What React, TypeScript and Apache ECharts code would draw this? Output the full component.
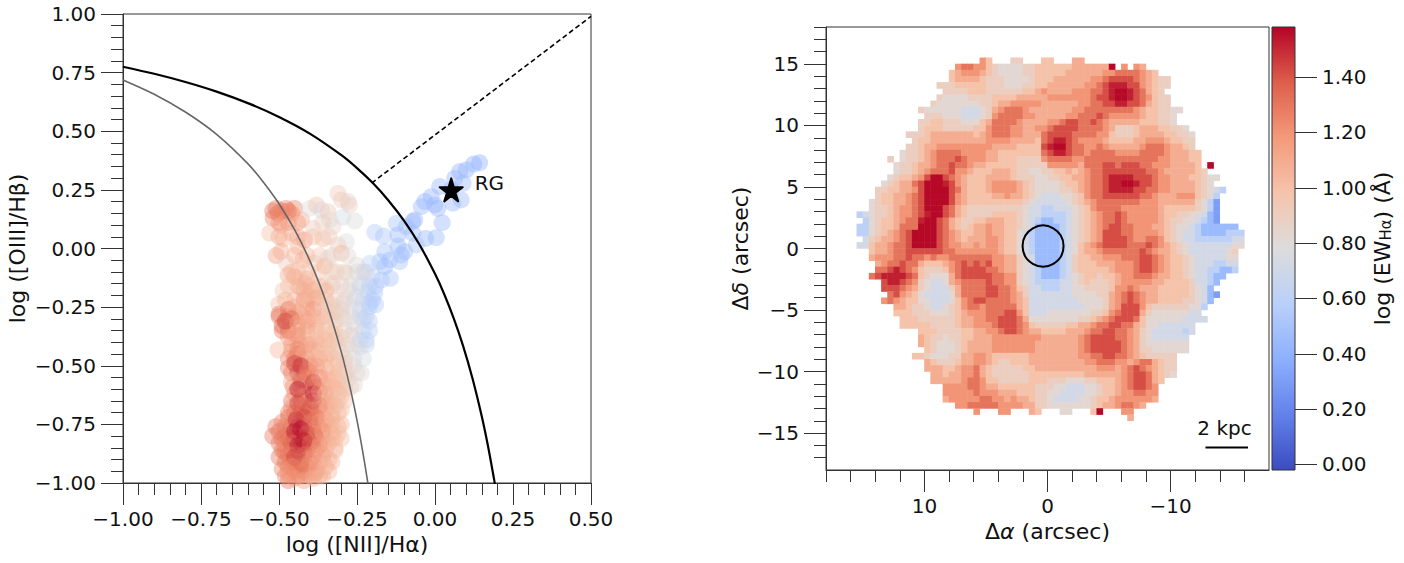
import React, { useEffect, useRef } from "react";
import * as echarts from "echarts";

const FONT = "DejaVu Sans";
const INK = "#111";
const FRAME = "#333";

// Line diagrams
const kewleyCurve = [[-1,.775],[-.9,.745],[-.8,.71],[-.7,.669],[-.6,.62],[-.5,.561],[-.4,.489],[-.3,.398],[-.25,.343],[-.2,.28],[-.15,.206],[-.1,.12],[-.05,.017],[0,-.108],[.03,-.196],[.06,-.298],[.09,-.415],[.12,-.553],[.15,-.716],[.17,-.843],[.19,-.989],[.195,-1.03]];
const kauffmannCurve = [[-1,.719],[-.9,.658],[-.8,.582],[-.7,.487],[-.6,.362],[-.55,.283],[-.5,.191],[-.45,.08],[-.4,-.056],[-.35,-.225],[-.3,-.443],[-.27,-.606],[-.25,-.733],[-.23,-.879],[-.215,-1.002]];
const dividerLine = [[-.203,.279],[.5,.99]];
const rgPoint = [.052,.25];

// [log NII/Ha, log OIII/Hb, log EW]
const blueBranch = [[.143,.366,.38],[.124,.36,.38],[.1,.335,.4],[.079,.328,.4],[.063,.299,.42],[.09,.278,.45],[.015,.264,.42],[.052,.25,.42],[.084,.207,.45],[.057,.193,.42],[-.012,.221,.42],[-.033,.2,.42],[-.001,.186,.42],[.009,.171,.42],[-.044,.178,.45],[.023,.11,.42],[-.071,.115,.42],[-.065,.122,.42],[-.092,.093,.45],[-.124,.107,.5],[-.193,.069,.55],[-.165,.053,.52],[-.119,.058,.45],[-.071,.065,.45],[-.03,.043,.42],[.004,.046,.45],[-.06,.015,.5],[-.119,.011,.45],[-.097,-.013,.45],[-.161,-.013,.5],[-.108,-.028,.45],[-.145,-.049,.48],[-.113,-.056,.5],[-.177,-.056,.48],[-.161,-.077,.45],[-.209,-.063,.6],[-.143,-.127,.5],[-.172,-.134,.52],[-.226,-.106,.75]];
const upperCloud = [[-.311,.235,.92],[-.3,.207,.9],[-.279,.2,.88],[-.274,.185,.88],[-.295,.133,.72],[-.257,.117,.78],[-.503,.15,1.3],[-.519,.129,1.25],[-.509,.171,1.3],[-.477,.171,1.25],[-.45,.171,1.25],[-.46,.15,1.2],[-.428,.122,1.1],[-.402,.171,.8],[-.38,.185,1],[-.364,.164,.7],[-.343,.157,.95],[-.338,.122,.8],[-.327,.093,.85],[-.53,.065,1],[-.493,.1,1.15],[-.46,.065,1.1],[-.487,.041,1.05],[-.418,.036,1.2],[-.359,.041,1.05],[-.391,.086,.9],[-.284,.029,.78],[-.509,-.03,1.15],[-.493,-.013,1.1],[-.439,.008,1.1],[-.311,.015,.9],[-.343,-.042,.85],[-.3,-.02,1.05],[-.477,-.063,.9],[-.423,-.049,1.1],[-.386,-.063,.95],[-.354,-.075,1.05],[-.471,-.113,1.1],[-.439,-.092,1],[-.252,-.07,.8],[-.316,-.099,.95],[-.284,-.106,.92],[-.418,-.148,1.1],[-.487,-.18,.95],[-.37,-.163,1.05],[-.501,-.238,1],[-.407,-.205,1.1],[-.327,-.148,.9],[-.279,-.177,.9],[-.231,-.099,.85],[-.199,-.12,.62],[-.242,-.148,.72],[-.215,-.184,.62],[-.193,-.191,.55],[-.21,-.234,.55],[-.252,-.205,.7],[-.295,-.234,.82],[-.338,-.248,.95],[-.391,-.177,1.1],[-.434,-.163,1.1],[-.418,-.22,1.1],[-.38,-.234,1.05]];
const middleColumn = [[-.5,-.28,1.3],[-.47,-.26,1.3],[-.45,-.25,1.1],[-.42,-.24,1.05],[-.39,-.26,1.2],[-.36,-.25,.95],[-.33,-.24,.9],[-.3,-.26,.85],[-.27,-.25,.8],[-.24,-.26,.68],[-.21,-.25,.58],[-.19,-.24,.55],[-.49,-.33,1.35],[-.48,-.31,1.45],[-.46,-.3,1.35],[-.44,-.32,1.15],[-.41,-.31,1.15],[-.38,-.3,1.05],[-.35,-.32,.95],[-.32,-.31,.92],[-.29,-.3,.85],[-.26,-.32,.78],[-.23,-.3,.65],[-.21,-.31,.6],[-.503,-.433,1.05],[-.47,-.38,1.2],[-.45,-.37,1.15],[-.42,-.38,1.1],[-.39,-.37,1],[-.36,-.38,1],[-.33,-.36,1],[-.3,-.38,.92],[-.27,-.37,.85],[-.24,-.39,.68],[-.22,-.39,.6],[-.46,-.44,1.2],[-.44,-.43,1.25],[-.42,-.45,1.1],[-.39,-.43,1.1],[-.36,-.44,1],[-.33,-.42,.95],[-.3,-.44,.9],[-.27,-.43,.82],[-.24,-.42,.75],[-.47,-.51,1.25],[-.45,-.49,1.45],[-.43,-.5,1.5],[-.41,-.52,1.3],[-.38,-.5,1.15],[-.35,-.51,1.05],[-.32,-.5,1],[-.29,-.49,.92],[-.26,-.5,.82],[-.46,-.57,1.1],[-.43,-.56,1.35],[-.41,-.55,1.25],[-.39,-.57,1.45],[-.37,-.55,1.2],[-.34,-.56,1.05],[-.31,-.57,1],[-.28,-.56,.9],[-.236,-.532,.8],[-.258,-.582,.82]];
const lowerColumn = [[-.45,-.62,1.2],[-.44,-.6,1.55],[-.42,-.63,1.3],[-.39,-.62,1.55],[-.37,-.61,1.2],[-.35,-.62,1.1],[-.32,-.6,1.05],[-.3,-.63,.95],[-.46,-.68,1.2],[-.44,-.66,1.45],[-.42,-.67,1.3],[-.4,-.68,1.4],[-.37,-.67,1.25],[-.345,-.68,1.1],[-.32,-.67,1.05],[-.3,-.69,1],[-.49,-.74,1.25],[-.47,-.72,1.3],[-.445,-.73,1.5],[-.42,-.72,1.45],[-.4,-.74,1.3],[-.38,-.72,1.3],[-.35,-.73,1.15],[-.33,-.72,1.05],[-.52,-.8,1.3],[-.5,-.78,1.3],[-.47,-.79,1.3],[-.45,-.78,1.55],[-.43,-.77,1.57],[-.41,-.79,1.4],[-.385,-.8,1.35],[-.36,-.78,1.2],[-.33,-.79,1.1],[-.31,-.79,1],[-.48,-.84,1.25],[-.46,-.83,1.35],[-.44,-.84,1.55],[-.42,-.82,1.55],[-.4,-.83,1.35],[-.37,-.84,1.2],[-.34,-.83,1.1],[-.32,-.85,1],[-.5,-.89,1.3],[-.47,-.88,1.3],[-.45,-.89,1.45],[-.42,-.88,1.35],[-.39,-.89,1.2],[-.36,-.88,1.15],[-.34,-.9,1.05],[-.49,-.94,1.25],[-.46,-.93,1.25],[-.44,-.94,1.3],[-.41,-.93,1.25],[-.38,-.94,1.15],[-.35,-.93,1.05],[-.47,-.96,1.2],[-.45,-.98,1.2],[-.42,-.99,1.15],[-.39,-.98,1.1],[-.36,-.97,1.1]];
const denseLower = [[-.48,-.97,1.25],[-.43,-.97,1.25],[-.4,-.97,1.15],[-.37,-.97,1.1],[-.45,-.95,1.3],[-.42,-.95,1.3],[-.38,-.95,1.15],[-.34,-.95,1.05],[-.48,-.91,1.3],[-.455,-.91,1.35],[-.43,-.91,1.4],[-.4,-.91,1.25],[-.37,-.91,1.15],[-.33,-.91,1.05],[-.49,-.86,1.3],[-.46,-.86,1.4],[-.44,-.86,1.5],[-.41,-.86,1.4],[-.38,-.86,1.25],[-.35,-.86,1.15],[-.32,-.86,1.05],[-.49,-.81,1.3],[-.47,-.81,1.4],[-.45,-.81,1.55],[-.43,-.81,1.57],[-.41,-.81,1.45],[-.38,-.81,1.3],[-.35,-.81,1.15],[-.32,-.81,1.05],[-.3,-.81,1],[-.51,-.76,1.3],[-.48,-.76,1.3],[-.46,-.76,1.4],[-.44,-.76,1.57],[-.42,-.76,1.5],[-.39,-.76,1.35],[-.37,-.76,1.25],[-.34,-.76,1.1],[-.31,-.76,1.05],[-.47,-.7,1.25],[-.45,-.7,1.35],[-.43,-.7,1.4],[-.41,-.7,1.3],[-.39,-.7,1.3],[-.36,-.7,1.2],[-.33,-.7,1.1],[-.31,-.7,1.05],[-.46,-.65,1.3],[-.43,-.65,1.5],[-.41,-.65,1.25],[-.39,-.65,1.5],[-.36,-.65,1.2],[-.33,-.65,1.1],[-.31,-.65,1],[-.29,-.65,.98]];
const denseUpper = [[-.455,-.59,1.25],[-.43,-.59,1.45],[-.4,-.59,1.4],[-.38,-.59,1.4],[-.36,-.59,1.15],[-.33,-.59,1.05],[-.3,-.59,.98],[-.27,-.59,.88],[-.46,-.53,1.3],[-.44,-.53,1.5],[-.42,-.53,1.35],[-.4,-.53,1.25],[-.37,-.53,1.15],[-.34,-.53,1.05],[-.31,-.53,.98],[-.28,-.53,.9],[-.25,-.53,.82],[-.47,-.47,1.25],[-.45,-.47,1.35],[-.43,-.47,1.3],[-.41,-.47,1.15],[-.38,-.47,1.1],[-.35,-.47,1],[-.32,-.47,.98],[-.29,-.47,.9],[-.26,-.47,.8],[-.23,-.47,.72],[-.46,-.41,1.2],[-.43,-.41,1.2],[-.4,-.41,1.15],[-.37,-.41,1.05],[-.34,-.41,1],[-.31,-.41,.95],[-.28,-.41,.86],[-.25,-.41,.78],[-.22,-.41,.62],[-.49,-.35,1.3],[-.47,-.35,1.35],[-.44,-.35,1.2],[-.41,-.35,1.1],[-.38,-.35,1.05],[-.35,-.35,1],[-.32,-.35,.95],[-.29,-.35,.88],[-.26,-.35,.78],[-.23,-.35,.65],[-.21,-.35,.58],[-.5,-.29,1.25],[-.47,-.29,1.35],[-.45,-.29,1.15],[-.42,-.29,1.1],[-.39,-.29,1.05],[-.36,-.29,1],[-.33,-.29,.92],[-.3,-.29,.85],[-.27,-.29,.78],[-.24,-.29,.68],[-.22,-.29,.6],[-.48,-.22,1.05],[-.45,-.22,1.1],[-.42,-.22,1.1],[-.39,-.22,1.05],[-.35,-.22,1],[-.32,-.22,.92],[-.29,-.22,.85],[-.26,-.22,.75],[-.23,-.22,.65],[-.2,-.22,.55],[-.47,-.16,1],[-.44,-.16,1.05],[-.4,-.16,1.05],[-.36,-.16,.95],[-.33,-.16,.92],[-.3,-.16,.85],[-.27,-.16,.78],[-.24,-.16,.7],[-.21,-.16,.6],[-.19,-.16,.55],[-.46,-.1,1.05],[-.41,-.1,1],[-.37,-.1,1],[-.33,-.1,.9],[-.29,-.1,.85],[-.25,-.1,.75],[-.22,-.1,.68],[-.45,-.03,1.05],[-.41,-.03,1.05],[-.37,-.03,.95],[-.33,-.03,.85],[-.28,-.03,.8],[-.5,.05,1.1],[-.44,.05,1.1],[-.39,.05,1],[-.34,.05,.9],[-.5,.11,1.2],[-.47,.11,1.2],[-.44,.11,1.15],[-.36,.11,.9],[-.49,.16,1.25],[-.52,.16,1.3],[-.47,.16,1.3]];
const extraColumn = [[-.47,-.99,1.3],[-.44,-.97,1.3],[-.41,-.96,1.25],[-.385,-.96,1.2],[-.47,-.93,1.3],[-.43,-.92,1.35],[-.39,-.92,1.2],[-.36,-.9,1.15],[-.48,-.87,1.3],[-.42,-.85,1.4],[-.39,-.84,1.3],[-.36,-.83,1.2],[-.33,-.81,1.12],[-.5,-.83,1.3],[-.48,-.8,1.35],[-.39,-.78,1.3],[-.36,-.75,1.2],[-.33,-.75,1.12],[-.3,-.75,1.05],[-.44,-.71,1.35],[-.4,-.71,1.3],[-.37,-.69,1.2],[-.34,-.66,1.15],[-.31,-.62,1.08],[-.29,-.6,1.02],[-.35,-.58,1.12],[-.32,-.55,1.08],[-.29,-.53,1],[-.4,-.5,1.25],[-.37,-.47,1.15],[-.34,-.45,1.1],[-.31,-.48,1.02],[-.44,-.45,1.3],[-.41,-.41,1.2],[-.38,-.4,1.12],[-.35,-.39,1.08],[-.32,-.39,1.02],[-.44,-.37,1.25],[-.41,-.33,1.15],[-.38,-.33,1.1],[-.35,-.29,1.05],[-.32,-.27,1],[-.44,-.27,1.15],[-.41,-.26,1.12],[-.38,-.21,1.1],[-.35,-.18,1.05],[-.42,-.18,1.1],[-.45,-.12,1.1],[-.41,-.13,1.08]];

// Colour map and colour bar
const coolwarm = ["#3b4cc0","#6282ea","#8db0fe","#b9d0f9","#dddcdc","#f5c4ac","#f49a7b","#dd5f4b","#b40426"];
const ewMin = -0.02;
const ewMax = 1.58;
const ewTicks = [0,.2,.4,.6,.8,1,1.2,1.4];

// EW map, one character per 0.5 arcsec spaxel, rows top to bottom from row 5, columns from column 5, "." = no data
const ewLevels: Record<string, number> = {"0":.3,"1":.45,"2":.6,"3":.72,"4":.82,"5":.9,"6":.99,"7":1.09,"8":1.2,"9":1.31,a:1.42,b:1.52,c:1.57};
const ewRows = [
"..... ..... ..... ..... 86... 55... 66... 77...",
"..... ..... ..... .8998 86544 44556 66666 77777 7c.8. 87...",
"..... ..... ..... 67888 76544 44556 66667 77777 88999 9876.",
"..... ..... ..... 67777 65554 44456 66777 77788 9aaaa 98765 5",
"..... ..... ...55 56666 65554 44556 67777 77889 abbba a8765 5",
"..... ..... ....5 55566 65555 55667 87777 88899 abccb a9765",
"..... ..... ...54 44455 55666 67777 78888 8889a abccb a9865 5",
"..... ..... ..544 44444 55677 88888 77777 78899 aabba a9765 5",
"..... ..... 54444 44333 45789 99877 77777 88999 99999 87665 544",
"..... ..... .5554 44333 45899 99887 77778 8999a 98888 87665 54",
"..... ..... 55665 55444 67999 98777 7889a a99a9 87777 76665 54",
"..... ..... 56665 55556 68999 88778 89aaa a9999 87555 67776 6554",
"..... ...55 56777 77776 78999 88777 9aaaa 99998 86555 67777 66554",
"..... ....5 66777 77777 78888 77776 9abba 98888 76666 77888 76655",
"..... ...55 67788 88888 88777 76666 abcca 99889 87777 78999 87765",
"..... ..455 67899 99888 87766 66666 9abba 99899 99888 89999 87776 6",
"..... 5.455 67899 9a988 87766 65555 89999 88999 99999 99998 87776 6",
"..... .4556 77899 a9987 76666 65555 58888 87999 aa9aa a9988 87777 6.c",
"..... .4556 78999 a8876 66777 65544 55667 67899 aaaaa aa998 77777 65",
"..... 45667 8acca 98766 67777 65554 45566 77899 abbbb aaa98 87776 6544",
"....4 56779 acccb a8766 67888 87654 44456 67899 abbcc baa98 87777 654",
"...55 66778 acccc a9766 67888 87654 44455 67899 abbbb aa998 87777 65432",
"...56 67789 acccc a8766 66778 77654 33344 56899 aaaaa a9987 77888 6542",
"..456 67789 acccc a8766 66666 66543 33334 56789 99999 98887 77777 5420",
"..455 67889 accca 97655 55555 55433 22333 45689 99988 88887 66666 5420",
"23455 67889 abcca 97655 55666 65433 22223 45678 99a98 88887 66554 4310",
".2456 67899 bcca9 76556 67776 65432 11223 45678 99a98 88887 65544 3210",
"22456 67999 ccca9 76567 78776 65431 11123 45678 9aa99 88877 65443 21111 11",
"22456 789ac ccca9 87667 78776 64321 11123 45678 aaa99 88887 65433 21111 222",
".3567 789ac ccca9 87677 78876 64321 11123 45678 aaaa9 88998 65433 22222 233",
"33677 899ac ccca9 88778 78876 64321 11123 46789 aaaa9 99a98 76543 33333 344",
"..677 899aa aaaa9 98888 88876 64321 11123 46778 99999 9a987 76543 33333 45",
"..788 899a9 98988 99999 99887 75431 11123 56677 88899 9aa98 76654 33333 44",
"...78 99a99 76667 89a9a 9a887 75431 11123 56667 77888 9aa98 76654 33322 33",
"...99 aba98 65556 89aaa a9987 75432 11123 56666 67888 9aa98 76654 33221 12",
"..9ab bbba9 65444 79aaa aa998 85432 11123 45665 66788 99987 76654 33211",
"....a bba98 54334 78999 9a998 85432 22233 45655 56788 88877 66665 3321",
"....a aa987 54333 57999 9aa99 86533 22233 44555 56889 87776 66665 431",
"..... 9a876 43333 47999 9aa99 87533 33333 44445 5789a 98776 66665 4310",
"....8 98766 44333 4689a a9999 87633 33333 34444 5789a 98776 66655 431",
"..... .7765 54334 56899 89999 97633 33333 33444 578aa a8655 55554 42",
"..... .6665 55444 56788 8999a a8633 34444 44455 689aa a7544 44443 3",
"..... ..666 55555 56778 899aa a9744 44444 45567 89aaa 96444 44433 33",
"..... ..666 66555 56778 889aa a9865 55556 67789 9aa99 76443 33333",
"..... ..... 66655 55667 7889a a9877 66667 77899 aa998 75433 33323",
"..... ..... 76554 55667 77888 88888 77777 789aa aa998 75433 3333",
"..... ..... 76544 45677 77888 88887 77777 789aa aaa98 75444 4444",
"..... ..... .6544 45677 77888 88887 77777 789aa aaa98 75544 4444",
"..... ....6 65444 55778 87666 66677 77777 78899 aa998 76555 55",
"..... ..... .7655 56778 87655 66677 77777 77889 99887 89976 55",
"..... ..... .7776 67889 76555 55667 77777 77778 88789 a9876 55",
"..... ..... ..776 77889 76555 55566 66666 66777 77789 aa976 54",
"..... ..... ..777 77899 86655 55566 65554 44556 66789 aa976",
"..... ..... ....8 88899 87766 66665 55443 33445 66789 aa98.",
"..... ..... ....8 88889 88877 76665 54433 33445 66788 9988.",
"..... ..... ....7 88888 99887 87765 54333 34456 67888 8887.",
"..... ..... ..... .8899 99988 88775 54444 44456 77899 87...",
"..... ..... ..... ....8 ...88 ...76 ...44 ...6c ...88",
"..... ..... ..... ..... ..... ..... ..... ..... ....7",
];
const firstRow = 5;
const firstCol = 5;
const gridCells = 72;

const xMajor = [10,0,-10];
const xMinor = [-16,-14,-12,-10,-8,-6,-4,-2,0,2,4,6,8,10,12,14,16,18];
const yMajor = [-15,-10,-5,0,5,10,15];
const yMinor = [-17,-16,-15,-14,-13,-12,-11,-10,-9,-8,-7,-6,-5,-4,-3,-2,-1,0,1,2,3,4,5,6,7,8,9,10,11,12,13,14,15,16,17,18];
const apertureCentre = [0.36,0.2];

const fmt2 = (v: number) => v.toFixed(2).replace("-", "\u2212");
const fmt0 = (v: number) => String(v).replace("-", "\u2212");

export default function App() {
  const ref = useRef<HTMLDivElement>(null);
  useEffect(() => {
    const chart = echarts.init(ref.current!, null, { renderer: "svg" });
    const heat: number[][] = [];
    ewRows.forEach((row, r) => {
      row.replace(/\s/g, "").split("").forEach((ch, i) => {
        if (ch !== ".") heat.push([firstCol + i, gridCells - 1 - (firstRow + r), ewLevels[ch]]);
      });
    });
    const cats = Array.from({ length: gridCells }, (_, i) => String(i));
    const line = { color: FRAME, width: 1 };
    const label = { color: INK, fontFamily: FONT, fontSize: 20 };
    const nameStyle = { color: INK, fontFamily: FONT, fontSize: 22 };
    const leftAxis = (extra: any) => ({
      type: "value", gridIndex: 0, interval: .25, splitLine: { show: false },
      axisLine: { show: true, onZero: false, lineStyle: line },
      axisTick: { show: true, length: 22, lineStyle: line },
      minorTick: { show: true, splitNumber: 5, length: 12, lineStyle: line },
      nameLocation: "middle", nameTextStyle: nameStyle, ...extra,
    });
    const hidden = { axisLine: { show: false }, axisTick: { show: false }, axisLabel: { show: false }, splitLine: { show: false } };
    const gradient = new echarts.graphic.LinearGradient(0, 1, 0, 0,
      coolwarm.map((color, i) => ({ offset: i / (coolwarm.length - 1), color })));
    const barTop = 27;
    const barHeight = 443;
    const tickMarks = ewTicks.map((t) => {
      const y = Math.round(barTop + barHeight * (ewMax - t) / (ewMax - ewMin)) + 0.5;
      return { type: "line", z: 100, shape: { x1: 1295, y1: y, x2: 1317, y2: y }, style: { stroke: FRAME, lineWidth: 1 } };
    });
    chart.setOption({
      animation: false,
      backgroundColor: "#fff",
      textStyle: { fontFamily: FONT },
      grid: [
        { left: 123, top: 14, width: 468, height: 469, show: true, borderColor: FRAME, borderWidth: 1, backgroundColor: "transparent", outerBoundsMode: "none" },
        { left: 826, top: 27, width: 443, height: 443, show: true, borderColor: FRAME, borderWidth: 1, backgroundColor: "transparent", outerBoundsMode: "none" },
        { left: 1272, top: barTop, width: 23, height: barHeight, outerBoundsMode: "none" },
      ],
      xAxis: [
        leftAxis({ min: -1, max: .5, name: "log ([NII]/H\u03b1)", nameGap: 50,
          axisLabel: { ...label, margin: 26, formatter: fmt2 } }),
        { type: "category", gridIndex: 1, data: cats, ...hidden, position: "bottom" },
        { type: "value", gridIndex: 1, min: -18, max: 18, inverse: true, position: "bottom", splitLine: { show: false },
          axisLine: { show: true, onZero: false, lineStyle: line },
          axisTick: { show: true, length: 22, lineStyle: line, customValues: xMajor },
          axisLabel: { ...label, margin: 26, customValues: xMajor, formatter: fmt0 },
          nameLocation: "middle", name: "\u0394{it|\u03b1} (arcsec)", nameGap: 49,
          nameTextStyle: { ...nameStyle, rich: { it: { ...nameStyle, fontStyle: "italic" } } } },
        { type: "value", gridIndex: 1, min: -18, max: 18, inverse: true, position: "bottom", splitLine: { show: false },
          axisLine: { show: false, onZero: false },
          axisTick: { show: true, length: 12, lineStyle: line, customValues: xMinor },
          axisLabel: { show: false } },
        { type: "value", gridIndex: 2, min: 0, max: 1, ...hidden },
      ],
      yAxis: [
        leftAxis({ min: -1, max: 1, name: "log ([OIII]/H\u03b2)", nameGap: 95,
          axisLabel: { ...label, margin: 27, formatter: fmt2 } }),
        { type: "category", gridIndex: 1, data: cats, ...hidden, position: "left" },
        { type: "value", gridIndex: 1, min: -18, max: 18, position: "left", splitLine: { show: false },
          axisLine: { show: true, onZero: false, lineStyle: line },
          axisTick: { show: true, length: 22, lineStyle: line, customValues: yMajor },
          axisLabel: { ...label, margin: 27, customValues: yMajor, formatter: fmt0 },
          nameLocation: "middle", name: "\u0394{it|\u03b4} (arcsec)", nameGap: 75,
          nameTextStyle: { ...nameStyle, rich: { it: { ...nameStyle, fontStyle: "italic" } } } },
        { type: "value", gridIndex: 1, min: -18, max: 18, position: "left", splitLine: { show: false },
          axisLine: { show: false, onZero: false },
          axisTick: { show: true, length: 12, lineStyle: line, customValues: yMinor },
          axisLabel: { show: false } },
        { type: "value", gridIndex: 2, min: ewMin, max: ewMax, position: "right", splitLine: { show: false },
          axisLine: { show: false, onZero: false },
          axisTick: { show: false },
          axisLabel: { ...label, margin: 27, customValues: ewTicks, formatter: (v: number) => v.toFixed(2) },
          nameLocation: "middle", name: "log (EW{sub|H\u03b1}) (\u00c5)", nameGap: 76, nameRotate: 90,
          nameTextStyle: { ...nameStyle, rich: { sub: { ...nameStyle, fontSize: 15, verticalAlign: "bottom" } } } },
      ],
      visualMap: {
        type: "continuous", show: false, min: ewMin, max: ewMax, dimension: 2, seriesIndex: [0, 1],
        inRange: { color: coolwarm }, outOfRange: { color: coolwarm },
      },
      series: [
        { type: "heatmap", xAxisIndex: 1, yAxisIndex: 1, data: heat, itemStyle: { borderWidth: 0 }, emphasis: { disabled: true } },
        { type: "scatter", xAxisIndex: 0, yAxisIndex: 0, symbolSize: 17, itemStyle: { opacity: .42 },
          data: [...upperCloud, ...denseUpper, ...extraColumn, ...middleColumn, ...denseLower, ...lowerColumn, ...blueBranch] },
        { type: "line", xAxisIndex: 0, yAxisIndex: 0, data: kauffmannCurve, symbol: "none", smooth: .3, lineStyle: { color: "#666", width: 1.6 } },
        { type: "line", xAxisIndex: 0, yAxisIndex: 0, data: kewleyCurve, symbol: "none", smooth: .3, lineStyle: { color: "#000", width: 2.2 } },
        { type: "line", xAxisIndex: 0, yAxisIndex: 0, data: dividerLine, symbol: "none", lineStyle: { color: "#000", width: 1.6, type: [5, 3] } },
        { type: "scatter", xAxisIndex: 0, yAxisIndex: 0, data: [rgPoint], symbolSize: 23,
          symbol: "path://M50 0 L61 35 L98 35 L68 57 L79 91 L50 70 L21 91 L32 57 L2 35 L39 35 Z",
          itemStyle: { color: "#000", borderColor: "#000", borderWidth: 2, borderJoin: "round", opacity: 1 },
          label: { show: true, formatter: "RG", position: "right", distance: 11, offset: [0, -7], color: INK, fontFamily: FONT, fontSize: 20 } },
        { type: "scatter", xAxisIndex: 2, yAxisIndex: 2, data: [apertureCentre], symbolSize: 41,
          itemStyle: { color: "transparent", borderColor: "#000", borderWidth: 2, opacity: 1 } },
      ],
      graphic: [
        { type: "rect", z: 100, shape: { x: 1272, y: barTop, width: 23, height: barHeight }, style: { fill: gradient, stroke: FRAME, lineWidth: 1 } },
        ...tickMarks,
        { type: "line", z: 100, shape: { x1: 1205.5, y1: 447.5, x2: 1248, y2: 447.5 }, style: { stroke: "#000", lineWidth: 2 } },
        { type: "text", z: 100, x: 1224.5, y: 428, style: { text: "2 kpc", fill: INK, font: `20px "${FONT}"`, textAlign: "center", textVerticalAlign: "middle" } },
      ],
    });
    return () => chart.dispose();
  }, []);
  return <div ref={ref} style={{ position: "absolute", left: 0, top: 0, width: 1404, height: 563 }} />;
}
